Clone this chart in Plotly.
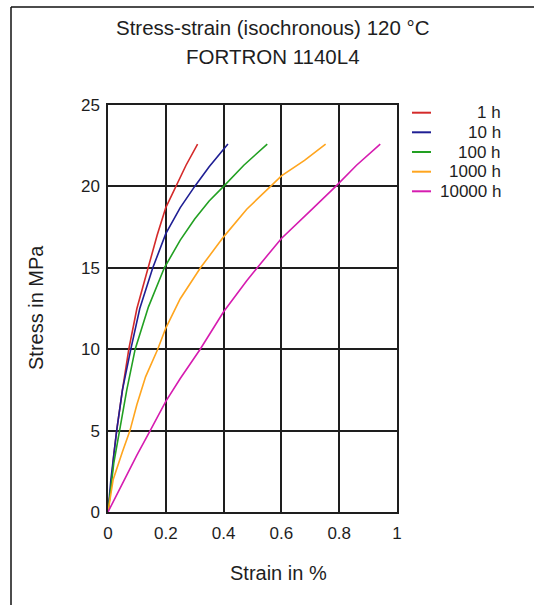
import plotly.graph_objects as go

# ---- data ----
series_names = ["1 h", "10 h", "100 h", "1000 h", "10000 h"]
series_colors = ["#d42a2a", "#1f1f94", "#22a022", "#ffa51e", "#d61cb0"]

strain_1h = [0, 0.01, 0.02, 0.03, 0.05, 0.072, 0.10, 0.14, 0.17, 0.20, 0.235, 0.27, 0.31]
stress_1h = [0, 1.5, 3.5, 5.0, 7.5, 10.0, 12.5, 15.0, 17.0, 18.7, 20.0, 21.3, 22.6]

strain_10h = [0, 0.01, 0.03, 0.05, 0.079, 0.11, 0.155, 0.20, 0.25, 0.30, 0.35, 0.415]
stress_10h = [0, 2.0, 5.0, 7.5, 10.0, 12.5, 15.0, 17.1, 18.7, 20.0, 21.2, 22.6]

strain_100h = [0, 0.02, 0.04, 0.065, 0.094, 0.14, 0.195, 0.25, 0.30, 0.35, 0.40, 0.47, 0.551]
stress_100h = [0, 3.0, 5.0, 7.5, 10.0, 12.6, 15.0, 16.7, 18.0, 19.1, 20.0, 21.3, 22.6]

strain_1000h = [0, 0.018, 0.05, 0.076, 0.10, 0.13, 0.172, 0.20, 0.25, 0.32, 0.40, 0.48, 0.5625, 0.60, 0.68, 0.753]
stress_1000h = [0, 2.0, 3.7, 5.0, 6.6, 8.3, 10.0, 11.3, 13.1, 15.0, 16.9, 18.6, 20.0, 20.65, 21.6, 22.6]

strain_10000h = [0, 0.05, 0.10, 0.146, 0.20, 0.25, 0.319, 0.40, 0.48, 0.53, 0.60, 0.70, 0.788, 0.86, 0.942]
stress_10000h = [0, 1.8, 3.5, 5.0, 6.8, 8.2, 10.0, 12.3, 14.2, 15.3, 16.8, 18.5, 20.0, 21.3, 22.6]

xs = [strain_1h, strain_10h, strain_100h, strain_1000h, strain_10000h]
ys = [stress_1h, stress_10h, stress_100h, stress_1000h, stress_10000h]

x_ticks = [0, 0.2, 0.4, 0.6, 0.8, 1]
x_ticktext = ["0", "0.2", "0.4", "0.6", "0.8", "1"]
y_ticks = [0, 5, 10, 15, 20, 25]

title_lines = ["Stress-strain (isochronous) 120 °C", "FORTRON 1140L4"]
x_title = "Strain in %"
y_title = "Stress in MPa"

# ---- layout geometry (pixels) ----
W, H = 534, 605
L, R, T, B = 108, 397, 105, 512

def px(xp):
    return (xp - L) / (R - L)

def py(yp):
    return (B - yp) / (B - T)

FONT = "Liberation Sans, Arial, sans-serif"
TXT = "#1e1e1e"
GRID = "#1e1e1e"

fig = go.Figure()
for name, col, x, y in zip(series_names, series_colors, xs, ys):
    fig.add_trace(go.Scatter(x=x, y=y, mode="lines", name=name,
                             line=dict(color=col, width=1.6),
                             showlegend=False))

axis_common = dict(showgrid=True, gridcolor=GRID, gridwidth=1.5,
                   showline=True, linecolor=GRID, linewidth=1.5, mirror=True,
                   zeroline=False, ticks="", fixedrange=True,
                   tickfont=dict(family=FONT, size=17, color=TXT))

fig.update_layout(
    width=W, height=H,
    margin=dict(l=L, r=W - R, t=T, b=H - B),
    paper_bgcolor="white", plot_bgcolor="white",
    showlegend=False,
    xaxis=dict(range=[0, 1], tickvals=x_ticks, ticktext=x_ticktext,
               ticklabelstandoff=5, **axis_common),
    yaxis=dict(range=[0, 25], tickvals=y_ticks, ticklabelstandoff=3, **axis_common),
)

ann = []
ann.append(dict(text=title_lines[0], x=px(273), y=py(27), xref="paper", yref="paper",
                showarrow=False, xanchor="center", yanchor="middle",
                font=dict(family=FONT, size=20.5, color=TXT)))
ann.append(dict(text=title_lines[1], x=px(273), y=py(57), xref="paper", yref="paper",
                showarrow=False, xanchor="center", yanchor="middle",
                font=dict(family=FONT, size=20.5, color=TXT)))
ann.append(dict(text=x_title, x=px(278), y=py(573), xref="paper", yref="paper",
                showarrow=False, xanchor="center", yanchor="middle",
                font=dict(family=FONT, size=20, color=TXT)))
ann.append(dict(text=y_title, x=px(36), y=py(308), xref="paper", yref="paper",
                showarrow=False, xanchor="center", yanchor="middle", textangle=-90,
                font=dict(family=FONT, size=20, color=TXT)))

shapes = []
leg_y = [112.7, 132.3, 152, 171.7, 191.3]
for name, col, yy in zip(series_names, series_colors, leg_y):
    shapes.append(dict(type="line", xref="paper", yref="paper",
                       x0=px(412), x1=px(431), y0=py(yy), y1=py(yy),
                       line=dict(color=col, width=2)))
    ann.append(dict(text=name, x=px(503), y=py(yy), xref="paper", yref="paper",
                    showarrow=False, xanchor="right", yanchor="middle",
                    font=dict(family=FONT, size=17, color=TXT)))

# outer frame (top and left edges visible)
shapes.append(dict(type="line", xref="paper", yref="paper",
                   x0=px(11), x1=px(540), y0=py(7), y1=py(7),
                   line=dict(color="#111111", width=1.5)))
shapes.append(dict(type="line", xref="paper", yref="paper",
                   x0=px(11), x1=px(11), y0=py(7), y1=py(610),
                   line=dict(color="#111111", width=1.5)))

fig.update_layout(annotations=ann, shapes=shapes)
fig.write_html("out.html", config={"displayModeBar": False},
               post_script="document.body.style.margin='0';")
